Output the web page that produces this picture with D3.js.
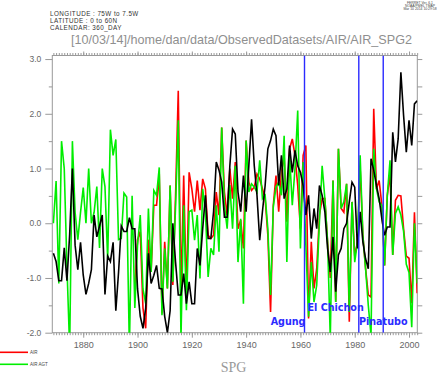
<!DOCTYPE html>
<html>
<head>
<meta charset="utf-8">
<script src="https://cdn.jsdelivr.net/npm/d3@7"></script>
<style>
  body { margin: 0; background: #fff; }
  svg { display: block; }
  .axis path { display: none; }
  .axis line { stroke: #999; }
  .axis text { fill: #666; font-family: "Liberation Sans", Arial, sans-serif; }
</style>
</head>
<body>
<svg width="441" height="374"></svg>
<script>
// yearly series, first value = firstYear
const firstYear = 1869;
const lastYear = 2003;

// black line (no legend entry visible)
const airBlack = [
  -0.55,
  -0.7, -1.05, -1.05, -0.45, -1.05, -0.2, 1.0, -0.4, -0.85, -0.35,
  -0.95, -1.3, -1.1, -0.85, 0.15, -0.25, -0.05, 0.15, -1.3, -0.6,
  -0.7, -0.35, -1.6, -0.9, -0.05, -0.15, -0.15, 0.1, -0.1, -0.1,
  -1.2, -1.7, -1.92, -1.55, -0.55, -1.1, -0.95, -0.77, -1.19, -1.2,
  -1.7, -2.0, -1.6, 0.0, -0.71, -1.31, -1.31, -0.92, -1.47, -1.07,
  -1.47, -1.47, -0.46, -0.77, -0.1, 0.51, -0.28, -0.28, 0.21, 1.12,
  0.97, 0.75, 0.11, 0.11, 1.05, 1.72, 1.63, 0.57, 0.21, 0.87,
  0.21, 1.05, 1.9, 1.05, 0.51, -0.31, 0.21, 0.69, 1.36, 1.51,
  1.72, 1.6, 0.69, 1.24, 0.45, 0.63, 1.42, 0.93, 1.33, 1.05,
  0.93, 0.69, 0.15, 0.51, -0.28, 0.27, -0.1, 0.69, 0.51, 0.21,
  -0.46, -0.89, -0.25, -1.25, -0.58, -0.46, -0.1, 0.0, 0.39, 0.75,
  0.66, -0.46, 0.21, -0.34, -0.65, -0.83, 1.18, 0.97, 0.69, 0.45,
  0.08, -0.22, -0.07, -0.07, 1.66, 1.12, 1.54, 2.76, 1.97, 1.3,
  1.88, 1.42, 2.18, 2.24
];

// AIR AGT (green)
const airAgt = [
  0.0,
  0.77, -1.1, 1.5, 1.0, -0.8, -2.3, 1.5, 0.2, -0.3, 0.2,
  0.65, 0.0, 1.0, 0.0, 0.2, 0.67, -0.45, 1.0, 0.67, -0.66,
  1.71, 1.24, 1.53, -0.3, -0.28, 0.55, 0.48, -2.3, 0.5, -1.55,
  -0.4, 0.15, -1.2, -1.47, 0.27, -0.89, 0.6, 0.51, 1.02, -1.68,
  -0.46, -1.19, 0.69, -1.07, 0.3, 1.88, -2.1, 0.33, -1.59, 0.21,
  0.24, -0.31, 0.15, -1.01, 0.63, 0.21, -0.98, -0.46, -0.58, 0.33,
  -0.52, 1.75, 0.33, -0.1, 0.7, -0.1, 1.05, -0.71, 0.08, -1.47,
  1.51, 0.57, 0.72, 0.66, 0.57, 1.15, 0.45, 0.51, -0.1, -1.31,
  0.3, 0.66, 0.75, 0.51, 1.6, -0.71, 1.24, 0.33, 1.0, 2.06,
  -0.46, 1.12, -0.4, -1.71, -0.71, -1.44, -1.13, 0.03, 1.05, 0.45,
  -0.34, -2.1, 0.78, -1.44, 1.36, 0.27, 0.39, 0.72, -1.62, 0.39,
  -0.71, -0.34, 1.24, -0.22, -0.83, -1.5, -2.05, 1.36, 0.63, 0.39,
  0.33, -0.77, 0.51, 1.15, -0.58, 0.18, 0.3, 0.15, -0.15, -0.75,
  -0.9, -1.9, 0.0, -1.1
];

// AIR (red) starts later
const airStart = 1899;
const air = [
  -1.2,
  -0.3, -0.15, -1.55, -1.92, -0.3, -0.89, 0.33, 0.33, 0.9, -1.65,
  -0.34, -1.19, 0.69, -1.13, 0.5, 2.42, -1.31, 0.87, -1.31, 0.93,
  0.63, 0.21, 0.78, 0.24, 0.81, 0.63, -0.22, -0.28, -0.22, 0.57,
  0.15, 1.75, 0.57, 0.15, 1.0, 0.45, 1.12, -0.1, 0.06, -0.46,
  1.51, 0.75, 0.6, 0.66, 0.9, 0.81, 0.63, 0.45, -0.22, -1.62,
  0.33, 0.87, 0.21, 0.93, 1.24, 0.03, 1.36, 1.54, 1.24, 0.69,
  -0.1, 1.24, 1.42, -1.74, -0.34, -1.19, -0.83, 0.15, 0.45, 0.45,
  -0.34, -1.0, 0.78, -1.44, 1.36, 0.27, 0.2, 0.72, -1.8, 0.39,
  -0.6, -0.34, 1.0, -0.22, -0.83, -1.31, -1.35, 2.09, 0.63, 0.78,
  0.33, -0.77, 0.51, 0.9, -0.58, 0.42, 0.51, 0.5, -0.1, -0.6,
  -0.64, -1.46, 0.2, -1.28
];

// eruption markers
const volcanoNames = ["Agung", "El Chichon", "Pinatubo"];
const volcanoYears = [1961.5, 1981.5, 1990.5];

const xTicks = [1880, 1900, 1920, 1940, 1960, 1980, 2000];
const yTicks = [-2, -1, 0, 1, 2, 3];

const headerLines = ["LONGITUDE : 75W to 7.5W", "LATITUDE : 0 to 60N", "CALENDAR: 360_DAY"];
const stampLines = ["FERRET Ver. 6.1", "NOAA/PMEL TMAP", "Mar 10 2014 10:29:58"];
const title = "[10/03/14]/home/dan/data/ObservedDatasets/AIR/AIR_SPG2";

const svg = d3.select("svg");
svg.append("rect").attr("width", 441).attr("height", 374).attr("fill", "#fff");

const plotL = 52.3, plotR = 417.3, plotT = 55.5, plotB = 332.7;

const x = d3.scaleLinear().domain([1868.6, 2003.05]).range([plotL, plotR]);
const y = d3.scaleLinear().domain([-2, 3.065]).range([plotB, plotT]);

// header text
svg.append("g").selectAll("text")
  .data(headerLines).enter().append("text")
  .attr("x", 50)
  .attr("y", (d, i) => 16 + i * 7)
  .attr("font-family", "Liberation Sans, Arial, sans-serif")
  .attr("font-size", 6.3)
  .attr("letter-spacing", 0.45)
  .attr("fill", "#333")
  .text(d => d);

svg.append("g").selectAll("text")
  .data(stampLines).enter().append("text")
  .attr("x", 420)
  .attr("y", (d, i) => 3.5 + i * 3.4)
  .attr("text-anchor", "middle")
  .attr("font-family", "Liberation Sans, Arial, sans-serif")
  .attr("font-size", 3.4)
  .attr("fill", "#444")
  .text(d => d);

svg.append("text")
  .attr("x", 71)
  .attr("y", 43.5)
  .attr("font-family", "Liberation Sans, Arial, sans-serif")
  .attr("font-size", 12.6)
  .attr("fill", "#8f8f8f")
  .text(title);

// axes
const years = d3.range(firstYear, lastYear + 1);

svg.append("g").attr("class", "axis")
  .attr("transform", `translate(0,${plotB})`)
  .call(d3.axisBottom(x).tickValues(years).tickSize(2.5).tickFormat(""));
svg.append("g").attr("class", "axis")
  .attr("transform", `translate(0,${plotB})`)
  .call(d3.axisBottom(x).tickValues(xTicks).tickSize(5).tickPadding(4).tickFormat(d3.format("d")))
  .selectAll("text").attr("font-size", 9);

svg.append("g").attr("class", "axis")
  .attr("transform", `translate(0,${plotT})`)
  .call(d3.axisTop(x).tickValues(years).tickSize(2.5).tickFormat(""));
svg.append("g").attr("class", "axis")
  .attr("transform", `translate(0,${plotT})`)
  .call(d3.axisTop(x).tickValues(xTicks).tickSize(4).tickFormat(""));

svg.append("g").attr("class", "axis")
  .attr("transform", `translate(${plotL},0)`)
  .call(d3.axisLeft(y).tickValues(d3.range(-1.5, 3, 1)).tickSize(3.5).tickFormat(""));
svg.append("g").attr("class", "axis")
  .attr("transform", `translate(${plotL},0)`)
  .call(d3.axisLeft(y).tickValues(yTicks).tickSize(7).tickPadding(4).tickFormat(d => d.toFixed(1)))
  .selectAll("text").attr("font-size", 8.5);

svg.append("g").attr("class", "axis")
  .attr("transform", `translate(${plotR},0)`)
  .call(d3.axisRight(y).tickValues(d3.range(-2, 3.01, 0.5)).tickSize(5).tickFormat(""));

svg.append("rect")
  .attr("x", plotL).attr("y", plotT)
  .attr("width", plotR - plotL).attr("height", plotB - plotT)
  .attr("fill", "none").attr("stroke", "#999").attr("stroke-width", 1);

// data lines
svg.append("clipPath").attr("id", "plotClip")
  .append("rect")
  .attr("x", plotL).attr("y", plotT)
  .attr("width", plotR - plotL).attr("height", plotB - plotT);

const plot = svg.append("g").attr("clip-path", "url(#plotClip)");

const line = d3.line()
  .x(d => x(d.year))
  .y(d => y(d.value));

const toPoints = (vals, start) => vals.map((v, i) => ({ year: start + i, value: v }));

plot.append("path")
  .datum(toPoints(air, airStart))
  .attr("fill", "none").attr("stroke", "#ff0000").attr("stroke-width", 1.6)
  .attr("d", line);

plot.append("path")
  .datum(toPoints(airAgt, firstYear))
  .attr("fill", "none").attr("stroke", "#00ee00").attr("stroke-width", 1.6)
  .attr("d", line);

plot.append("path")
  .datum(toPoints(airBlack, firstYear))
  .attr("fill", "none").attr("stroke", "#000").attr("stroke-width", 1.6)
  .attr("d", line);

// volcano markers
plot.selectAll(".volcano")
  .data(volcanoYears).enter().append("line")
  .attr("class", "volcano")
  .attr("x1", d => x(d)).attr("x2", d => x(d))
  .attr("y1", plotT).attr("y2", plotB)
  .attr("stroke", "#2b2bff").attr("stroke-width", 1.4);

const labelAnchor = ["end", "end", "middle"];
const labelShift = [1, 5, 0];
const labelY = [325, 311, 325];
svg.selectAll(".vlabel")
  .data(volcanoNames).enter().append("text")
  .attr("class", "vlabel")
  .attr("x", (d, i) => x(volcanoYears[i]) + labelShift[i])
  .attr("y", (d, i) => labelY[i])
  .attr("text-anchor", (d, i) => labelAnchor[i])
  .attr("font-family", "DejaVu Sans, sans-serif")
  .attr("font-weight", "bold")
  .attr("font-size", 9.6)
  .attr("fill", "#2b2bff")
  .text(d => d);

// legend
const legendNames = ["AIR", "AIR AGT"];
const legendColors = ["#ff0000", "#00ee00"];
const legend = svg.append("g");
legend.selectAll("line")
  .data(legendNames).enter().append("line")
  .attr("x1", 0).attr("x2", 28)
  .attr("y1", (d, i) => 352.3 + i * 12).attr("y2", (d, i) => 352.3 + i * 12)
  .attr("stroke", (d, i) => legendColors[i]).attr("stroke-width", 1.6);
legend.selectAll("text")
  .data(legendNames).enter().append("text")
  .attr("x", 30)
  .attr("y", (d, i) => 354 + i * 12)
  .attr("font-family", "Liberation Sans, Arial, sans-serif")
  .attr("font-size", 4.5)
  .attr("fill", "#444")
  .text(d => d);

svg.append("text")
  .attr("x", 233.5)
  .attr("y", 371.5)
  .attr("text-anchor", "middle")
  .attr("font-family", "Liberation Serif, serif")
  .attr("font-size", 14)
  .attr("fill", "#999")
  .text("SPG");
</script>
</body>
</html>
